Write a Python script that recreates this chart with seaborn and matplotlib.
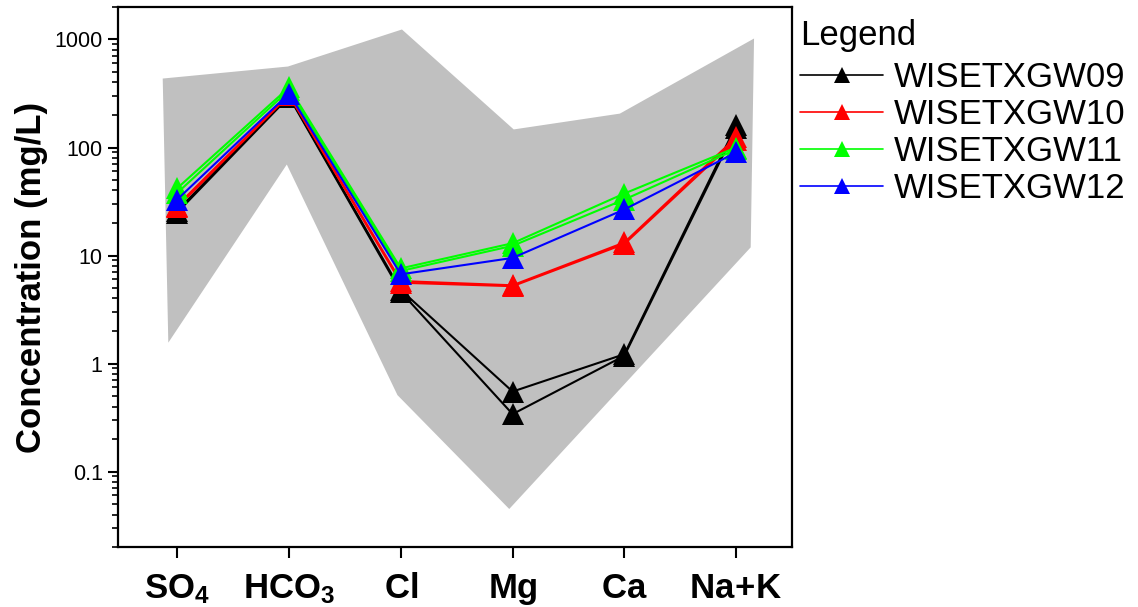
import numpy as np
import pandas as pd
import seaborn as sns
import matplotlib
matplotlib.use("Agg")
import matplotlib.pyplot as plt
from matplotlib.lines import Line2D
from matplotlib.ticker import FixedLocator, FixedFormatter, LogLocator, NullFormatter

# ---------------- data ----------------
ions = ["SO4", "HCO3", "Cl", "Mg", "Ca", "Na+K"]
ion_labels = [r"$\mathbf{SO_4}$", r"$\mathbf{HCO_3}$", r"$\mathbf{Cl}$",
              r"$\mathbf{Mg}$", r"$\mathbf{Ca}$", r"$\mathbf{Na\!+\!K}$"]
wells = ["WISETXGW09", "WISETXGW10", "WISETXGW11", "WISETXGW12"]
colors = ["#000000", "#FF0000", "#00FF00", "#0000FF"]

gw09_a = [26, 300, 4.8, 0.55, 1.22, 160]
gw09_b = [25, 295, 4.6, 0.34, 1.18, 150]
gw10_a = [29, 310, 5.8, 5.3, 13.2, 124]
gw10_b = [28, 305, 5.6, 5.2, 12.8, 118]
gw11_a = [42, 360, 7.6, 13.0, 37.5, 100]
gw11_b = [38, 340, 7.2, 12.3, 33.0, 96]
gw12_a = [33, 316, 6.7, 9.5, 26.7, 90]

samples = [("WISETXGW09", "a", gw09_a), ("WISETXGW09", "b", gw09_b),
           ("WISETXGW10", "a", gw10_a), ("WISETXGW10", "b", gw10_b),
           ("WISETXGW11", "a", gw11_a), ("WISETXGW11", "b", gw11_b),
           ("WISETXGW12", "a", gw12_a)]

# grey envelope (regional range)
env_upper_x = [-0.13, 0.99, 2.01, 3.01, 3.96, 5.16]
env_upper_y = [435, 562, 1238, 147, 206, 1021]
env_lower_x = [5.13, 2.97, 1.97, 0.98, -0.08]
env_lower_y = [11.9, 0.045, 0.51, 69.6, 1.56]

rows = []
for well, s, vals in samples:
    for i, v in enumerate(vals):
        rows.append({"well": well, "sample": well + s, "x": i, "value": v})
df = pd.DataFrame(rows)

# ---------------- style ----------------
sns.set_theme(style="ticks")
plt.rcParams["font.family"] = ["Liberation Sans", "DejaVu Sans"]
plt.rcParams["mathtext.fontset"] = "custom"
plt.rcParams["mathtext.rm"] = "Liberation Sans"
plt.rcParams["mathtext.bf"] = "Liberation Sans:bold"
plt.rcParams["mathtext.it"] = "Liberation Sans:italic"
for k in ["text.color", "axes.labelcolor", "xtick.color", "ytick.color", "axes.edgecolor"]:
    plt.rcParams[k] = "black"

fig = plt.figure(figsize=(11.38, 6.07), dpi=100)
ax = fig.add_axes([0.1037, 0.0988, 0.5923, 0.8897])

ax.fill(env_upper_x + env_lower_x, env_upper_y + env_lower_y,
        color="#C0C0C0", lw=0, zorder=1)

sns.lineplot(data=df, x="x", y="value", hue="well", units="sample",
             estimator=None, sort=False, hue_order=wells, palette=colors,
             marker="^", markersize=16, markeredgewidth=0, linewidth=1.5,
             legend=False, ax=ax, zorder=3)

ax.set_yscale("log")
ax.set_ylim(0.02, 2000)
ax.set_xlim(-0.53, 5.5)

ax.yaxis.set_major_locator(FixedLocator([0.1, 1, 10, 100, 1000]))
ax.yaxis.set_major_formatter(FixedFormatter(["0.1", "1", "10", "100", "1000"]))
ax.yaxis.set_minor_locator(LogLocator(base=10, subs=np.arange(2, 10), numticks=50))
ax.yaxis.set_minor_formatter(NullFormatter())

ax.set_xticks(range(len(ions)))
ax.set_xticklabels(ion_labels, fontsize=25, fontweight="bold")
ax.tick_params(axis="x", direction="out", length=8, width=1.5, pad=10, colors="black")
ax.tick_params(axis="y", which="major", direction="out", length=7, width=1.5,
               labelsize=15.5, pad=4, colors="black")
ax.tick_params(axis="y", which="minor", direction="out", length=4, width=1.2, colors="black")

for sp in ax.spines.values():
    sp.set_visible(True)
    sp.set_linewidth(1.6)
    sp.set_color("black")

ax.set_xlabel("")
ax.set_ylabel("Concentration (mg/L)", fontsize=25, fontweight="bold", labelpad=5)

handles = [Line2D([0], [0], color=c, lw=1.2, marker="^", markersize=11,
                  markeredgewidth=0) for c in colors]
leg = fig.legend(handles, wells, loc="upper left", bbox_to_anchor=(0.7, 0.975),
                 frameon=False, fontsize=25, title="Legend", title_fontsize=25,
                 alignment="left", handlelength=2.4, handletextpad=0.3,
                 labelspacing=0.12, borderaxespad=0, borderpad=0.1)
leg._legend_box.sep = 6.5

fig.savefig("out.png", dpi=100)
